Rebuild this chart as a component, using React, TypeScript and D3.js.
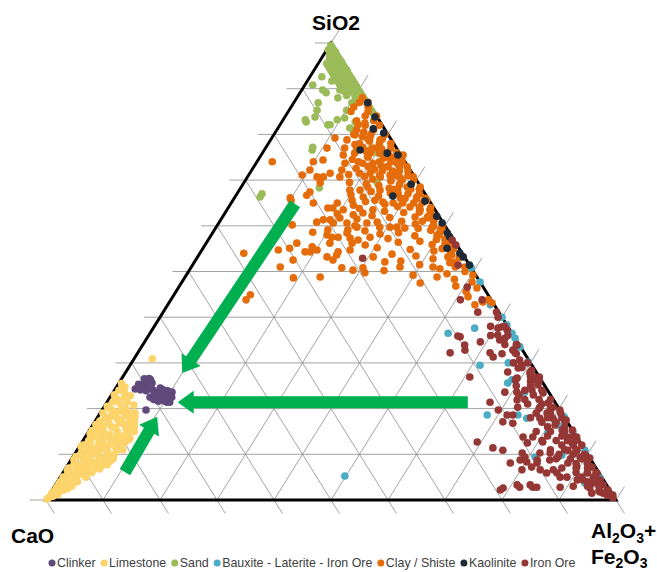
import React, { useEffect, useRef } from "react";
import * as d3 from "d3";

const W = 657;
const H = 572;

// Each point: [SiO2 %, Al2O3+Fe2O3 %]; CaO % = 100 - SiO2 - (Al2O3+Fe2O3)
const clinker: [number, number][] = [
  [24.7, 3.8], [25.2, 4.4], [25.8, 5.0], [25.6, 5.8], [24.1, 4.5], [24.5, 5.5],
  [23.6, 7.3], [23.0, 8.2], [23.6, 8.7], [23.4, 9.7], [22.5, 10.8], [21.9, 9.4],
  [21.4, 10.5], [21.9, 8.5], [23.6, 10.3], [19.7, 7.7], [22.5, 7.0], [24.5, 7.8],
  [24.1, 6.7], [22.5, 9.6], [21.4, 11.0], [24.9, 4.8], [25.3, 3.6], [24.3, 3.5],
  [23.9, 5.6], [23.2, 7.5], [22.9, 9.2], [22.3, 8.3], [22.8, 10.2], [21.7, 9.9],
  [23.9, 9.4], [24.1, 8.5], [22.0, 7.9], [21.6, 8.9], [26.5, 4.0], [26.3, 5.2], [26.6, 4.8],
];

const limestone: [number, number][] = [
  [30.9, 3.2], [24.7, 1.5], [22.8, 3.4], [21.5, 1], [21, 2.5], [20.5, 0.5], [20, 4], [19.5, 2],
  [19, 5.5], [19, 0.5], [18.5, 3], [18, 6.5], [18, 1.5], [17.5, 4.5], [17, 7], [17, 2.5],
  [16.5, 0.5], [16.5, 5.5], [16, 3.5], [16, 7.5], [15.5, 1.5], [15, 5], [15, 8], [14.5, 3],
  [14.5, 0.5], [14, 6.5], [14, 2], [13.5, 4.5], [13.5, 8], [13, 1], [13, 6], [12.5, 3],
  [12.5, 7.5], [12, 0.5], [12, 5], [11.5, 2], [11.5, 6.5], [11, 4], [11, 8], [10.5, 1],
  [10.5, 5.5], [10, 3], [10, 7], [9.5, 0.5], [9.5, 4.5], [9, 2], [9, 6], [8.5, 3.5],
  [8.5, 7], [8, 1], [8, 5], [7.5, 2.5], [7.5, 6], [7, 0.5], [7, 4], [6.5, 2], [6.5, 5],
  [6, 3], [6, 1], [5.5, 4], [5, 2], [5, 0.5], [4.5, 3], [4, 1.5], [4, 3.5], [3.5, 0.5],
  [3, 2], [3, 1], [2.5, 2.5], [2, 0.5], [2, 1.5], [1.5, 1], [1, 0.5], [0.5, 0.2], [0.2, 0.1],
  [18.2, 6.5], [15.8, 7.4], [13.1, 7.8], [7.7, 6.9], [9.8, 6.3], [19.0, 6.1],
  [25.5, 0.5], [24, 0.8], [23.5, 2], [23, 0.5], [22, 1.5], [22.5, 2.5], [21.5, 3.5], [20.8, 5],
  [20, 1.2], [19.5, 3.3], [19, 4.3], [18.5, 5], [18.3, 2.2], [17.8, 3.6], [17.5, 6], [17.3, 0.8],
  [16.8, 4.5], [16.5, 6.5], [16.2, 2], [15.8, 4.2], [15.5, 6.3], [15.2, 0.5], [15, 2.5], [14.7, 7],
  [14.3, 4], [14, 5.5], [13.8, 1.5], [13.3, 3.3], [13, 7], [12.8, 5.2], [12.5, 1.5], [12, 4],
  [12, 6.5], [11.7, 0.3], [11.3, 3], [11, 5.2], [11, 7], [10.7, 2], [10.2, 4], [10, 6],
  [9.8, 1.5], [9.5, 3], [9.2, 5.5], [9, 7.3], [8.8, 0.5], [8.5, 2.5], [8.2, 4.5], [8, 6.2],
  [7.7, 1.5], [7.5, 3.5], [7.2, 5.2], [7, 2.5], [6.8, 6], [6.5, 0.5], [6.2, 4], [6, 5],
  [5.7, 2], [5.5, 3], [5.3, 1], [5, 4.5], [4.7, 2], [4.3, 2.5], [4, 0.5], [3.7, 3],
  [3.5, 1.5], [3, 3], [2.7, 0.5], [2.5, 1.5], [2.2, 2], [1.8, 1], [1.5, 0.3], [1.2, 1.5], [0.8, 0.8],
];

const sand: [number, number][] = [
  [99.5, 0.2], [99, 0.7], [98.5, 1.2], [98.5, 0.3], [98, 1.8], [98, 0.8], [97.5, 2.2], [97.5, 1],
  [97, 2.7], [97, 1.7], [96.5, 3.2], [96.5, 1.5], [96, 3.8], [96, 2.5], [95.5, 4.2], [95.5, 2.7],
  [95.5, 1.5], [95, 4.7], [95, 3.5], [95, 2], [94.5, 5.2], [94.5, 4], [94.5, 2.5], [94, 5.8],
  [94, 4.5], [94, 3], [93.5, 6.2], [93.5, 5], [93.5, 3.5], [93, 6.7], [93, 5.5], [93, 4],
  [92.5, 7.2], [92.5, 6], [92.5, 4.5], [92, 7.7], [92, 6.5], [92, 5], [91.5, 8.2], [91.5, 7],
  [91.5, 5.5], [91, 8.7], [91, 7.5], [91, 6], [90.5, 9.2], [90.5, 8], [90.5, 6.5], [90, 9.7],
  [90, 8.5], [90, 7], [89.5, 10.2], [89.5, 9], [89.5, 7.5], [89, 10.7], [89, 9.5], [88.5, 11.2],
  [88.5, 10], [88.5, 8.5], [88, 11.7], [88, 10.3], [87.5, 12.2], [87.5, 10.8], [87, 12.7],
  [87, 11.2], [86.5, 13.2], [86, 13.7], [85.5, 14.2], [85, 14.7], [84.5, 15.2],
  [90.8, 1.4], [92.6, 2.1], [91.7, 4.3], [89.7, 3.7], [89.1, 4.6], [89.7, 6.7], [88.0, 7.2],
  [86.9, 4.3], [85.3, 4.9], [83.2, 3.9], [83.8, 5.3], [82.1, 8.8], [83.2, 9.5], [83.6, 10.6],
  [85.3, 10.1], [81.4, 12.6], [82.7, 12.9], [77.2, 8.2], [76.6, 8.4], [76.6, 18.5], [89.1, 8.2],
  [86.9, 10.2], [67.0, 4.4], [66.3, 4.4], [68.3, 13.8], [82.7, 4.3], [82.1, 8.4], [81.0, 13.4],
  [75.9, 20.3], [69.4, 23.4],
];

const bauxite: [number, number][] = [
  [50.8, 49.2], [47.7, 52.3], [42.7, 56.6], [40.0, 60.0], [38.3, 61.7], [36.5, 63.5], [35.4, 64.6],
  [33.5, 66.4], [30.2, 69.5], [37.6, 56.4], [30.0, 66.1], [29.5, 61.4], [26.3, 68.6], [18.6, 68.1],
  [18.6, 73.5], [17.9, 75.4], [14.7, 80.7], [9.8, 85.6], [9.4, 81.1], [8.1, 90.9], [3.7, 92.7],
  [5.0, 94.2], [36.5, 52.3], [25.6, 68.2], [23.6, 72.2], [16.4, 81.6], [18.2, 81.8], [14.9, 85.0],
  [10.9, 89.1], [4.8, 94.8], [5.25, 49.8],
];

const clayScatter: [number, number][] = [
  [82.1, 13.7], [82.5, 14.7], [79.9, 14.3], [79.2, 17.2], [78.8, 19.2], [77.2, 17.0], [77.0, 18.7],
  [75.9, 20.6], [75.1, 22.8], [75.5, 24.9], [73.7, 24.7], [72.9, 26.9], [72.9, 23.4], [73.7, 20.5],
  [73.7, 18.7], [74.0, 17.8], [77.0, 13.9], [75.9, 16.2], [73.7, 15.6], [72.2, 15.8], [71.5, 19.3],
  [71.5, 21.1], [70.7, 23.3], [71.1, 24.8], [70.5, 26.9], [70.7, 29.1], [68.5, 31.4], [68.5, 29.1],
  [67.8, 27.8], [66.3, 31.9], [65.6, 34.0], [63.5, 35.6], [63.5, 33.9], [64.1, 31.8], [65.0, 30.1],
  [67.2, 26.8], [67.8, 24.7], [68.5, 22.2], [67.8, 21.2], [67.8, 19.4], [65.6, 20.9], [66.3, 22.5],
  [65.6, 24.9], [65.2, 26.5], [65.0, 28.4], [63.5, 25.6], [62.8, 24.2], [62.4, 22.7], [63.5, 20.4],
  [65.0, 18.6], [63.9, 18.4], [61.7, 20.7], [61.3, 19.2], [60.6, 22.5], [59.7, 24.7], [60.6, 26.0],
  [59.7, 28.7], [59.7, 30.5], [59.7, 31.7], [59.5, 33.2], [61.9, 33.8], [61.7, 36.0], [59.7, 37.9],
  [58.0, 39.6], [61.9, 36.8], [59.1, 39.6], [56.2, 42.2], [55.4, 42.3], [53.6, 44.4], [51.9, 44.9],
  [51.0, 46.3], [51.0, 42.4], [48.8, 44.2], [61.3, 18.0], [60.8, 17.1], [60.6, 20.1], [59.1, 19.9],
  [58.4, 23.6], [57.3, 24.7], [57.5, 22.5], [58.0, 20.3], [58.6, 17.5], [55.4, 19.0], [54.3, 19.2],
  [54.7, 20.2], [56.2, 21.7], [54.3, 24.1], [53.6, 24.2], [53.2, 22.7], [52.5, 24.1], [54.7, 26.0],
  [56.9, 26.3], [57.5, 28.1], [55.8, 28.1], [53.2, 30.8], [52.1, 33.4], [51.0, 36.6], [49.2, 39.8],
  [49.7, 31.1], [50.3, 28.7], [50.8, 26.5], [48.8, 23.7], [54.3, 18.3], [52.5, 17.1], [55.1, 15.2],
  [65.0, 14.4], [66.7, 12.4], [67.4, 12.6], [69.4, 13.4], [70.7, 12.2], [72.2, 10.2], [70.7, 13.3],
  [71.5, 14.1], [74.0, 9.9], [74.4, 11.4], [75.5, 14.4], [77.0, 10.8], [78.8, 13.4], [79.2, 11.1],
  [60.2, 13.1], [56.2, 15.9], [74.0, 2.7], [71.1, 9.4], [66.1, 9.8], [70.7, 16.2], [63.9, 17.5],
  [57.5, 21.4], [54.7, 13.4], [51.0, 15.6], [54.0, 7.7], [48.6, 19.1], [56.2, 25.6], [50.8, 30.2],
  [59.1, 23.4], [43.8, 13.2], [44.9, 13.4], [65.6, 10.2], [53.2, 43.9], [51.0, 48.0], [49.2, 50.3],
  [47.7, 50.9], [46.4, 52.4], [42.7, 53.9], [43.3, 55.0], [43.8, 55.7], [43.1, 56.7],
  [80.5, 15.5], [79.5, 15.8], [78.5, 17.5], [77.8, 15.3], [76.8, 20.5], [76.3, 18], [75.2, 18.8],
  [74.8, 21.8], [74.5, 16.5], [73.2, 22.2], [72.6, 18.1], [72.3, 21.5], [72, 24.8], [71.2, 17.5],
  [70.8, 20.5], [70.2, 22.2], [69.8, 25.6], [69.5, 18.5], [69.2, 21.6], [68.8, 24], [68.2, 26.1],
  [67.5, 23.3], [67, 28.3], [66.8, 20.1], [66.5, 25.1], [66, 29.2], [65.3, 23.4], [64.7, 27.1],
  [64.5, 21.7], [64.2, 29.6], [63.8, 23.1], [63.2, 27.8], [62.9, 31.3], [62.6, 19.8], [62.2, 26.1],
  [61.8, 29.4], [61.5, 23.8], [61, 31.9], [60.8, 27.7], [60.4, 34.6], [60, 24.2], [59.4, 35.6],
  [58.9, 26.5], [58.5, 32.6], [58.2, 29.5], [57.8, 35.8], [57.2, 31.4], [56.6, 37.3], [56.4, 33.6],
  [55.9, 39.8], [55.2, 30.5], [54.8, 36.5], [54.5, 40.8], [53.8, 33.8], [53.4, 38.2], [52.8, 41.5],
  [52.3, 36.1], [51.5, 39.8], [50.6, 43.8], [50.2, 34.2], [49.5, 45.6], [48.3, 47.5], [47.5, 41.9],
  [46.8, 48.5], [45.6, 50.9], [44.5, 51.8],
];

const clayBand: [number, number][] = [
  [88, 11.5], [87, 11.5], [87, 13], [86, 11], [86, 13.5], [85, 14], [85, 11], [84, 14], [84, 16],
  [83, 16], [83, 13], [82, 17.5], [82, 15], [81, 17], [81, 14], [80, 19.5], [80, 17], [80, 14],
  [79, 19.5], [79, 17], [78, 21.5], [78, 19.5], [78, 16], [77, 22], [77, 19.5], [77, 16],
  [76, 23.5], [76, 22], [76, 19], [75, 24], [75, 22], [75, 19], [74, 25.5], [74, 23.5], [74, 21.5],
  [73, 25.5], [73, 23.5], [73, 20], [72, 27.5], [72, 26], [72, 23], [71, 28], [71, 26], [71, 23],
  [70, 29.5], [70, 27.5], [70, 25.5], [69, 29.5], [69, 27.5], [68, 31.5], [68, 30], [68, 27],
  [67, 32], [67, 30], [66, 33.5], [66, 32], [66, 30], [65, 33.5], [65, 32], [64, 35.5], [64, 33.5],
  [63, 36], [63, 34], [62, 37.5], [62, 36], [61, 37.5], [61, 35.5], [60, 39.5], [60, 38],
  [59, 40], [59, 38], [58, 41.5], [58, 40], [57, 41.5], [57, 40], [56, 43.5], [56, 42],
  [55, 44], [55, 42], [54, 44], [53, 46], [52, 45.5], [50, 48.5],
];

const kaolinite: [number, number][] = [
  [86.9, 13.0], [83.8, 15.8], [81.2, 16.8], [80.3, 19.1], [76.6, 16.8], [75.9, 21.9], [75.5, 24.0],
  [69.1, 29.5], [66.5, 27.6], [65.4, 33.8], [62.1, 37.5], [60.6, 39.2], [58.4, 41.2], [55.1, 42.8],
  [54.0, 45.6], [53.2, 46.6], [51.4, 48.6], [57.6, 42.0],
];

const ironOreScatter: [number, number][] = [
  [51.4, 46.6], [46.6, 50.6], [43.8, 50.8], [43.8, 54.6], [41.1, 55.2], [41.1, 58.5], [40.0, 59.3],
  [37.9, 61.1], [37.6, 60.5], [37.2, 62.3], [35.4, 62.8], [35.0, 62.1], [36.1, 61.2], [35.7, 54.8],
  [33.9, 56.5], [32.8, 57.1], [32.2, 54.8], [34.6, 58.9], [32.2, 61.8], [31.3, 62.8], [32.8, 65.5],
  [33.9, 65.7], [32.2, 66.2], [30.6, 67.8], [29.5, 68.7], [28.9, 68.4], [28.4, 71.0], [26.9, 72.3],
  [26.9, 73.1], [26.9, 60.9], [26.7, 69.3], [27.8, 71.0], [26.3, 72.3], [26.3, 69.2], [24.1, 73.2],
  [25.2, 73.7], [23.4, 75.5], [21.2, 77.5], [19.0, 78.4], [17.9, 80.0], [19.0, 80.8], [16.4, 81.1],
  [15.3, 82.9], [13.8, 84.5], [12.5, 86.1], [10.9, 86.1], [10.9, 87.7], [9.4, 89.0], [8.75, 90.5],
  [7.2, 92.2], [5.9, 93.7], [4.4, 95.0], [3.3, 96.1], [2.2, 97.5], [1.1, 98.9], [3.7, 94.1],
  [1.75, 96.3], [2.6, 94.1], [4.4, 92.0], [4.4, 91.0], [5.9, 92.0], [5.0, 88.9], [7.2, 89.5],
  [8.1, 87.5], [9.4, 85.1], [6.6, 85.7], [8.75, 84.0], [5.0, 87.7], [2.8, 88.8], [2.8, 84.0],
  [3.3, 83.3], [3.3, 81.0], [2.6, 78.9], [6.6, 80.2], [7.2, 81.6], [8.3, 80.2], [8.75, 81.8],
  [10.3, 81.5], [10.3, 83.3], [9.4, 79.3], [10.3, 78.4], [10.9, 74.7], [12.5, 78.2], [13.8, 76.8],
  [17.1, 71.6], [16.8, 73.5], [13.8, 78.5], [12.7, 80.8], [17.9, 77.7], [18.6, 72.6], [20.3, 72.6],
  [23.6, 70.8], [23.6, 68.7], [20.3, 76.5], [20.3, 78.8], [19.7, 80.3], [17.1, 82.5], [13.1, 86.6],
  [12.0, 88.0], [9.2, 90.8], [17.5, 82.5], [15.3, 84.7], [13.8, 86.2], [35.9, 54.3], [12.7, 69.3],
  [11.4, 72.7], [8.1, 77.4], [2.8, 81.7], [2.2, 78.6], [2.8, 84.7], [5.9, 84.9], [5.9, 86.7],
  [21.4, 67.2], [19.7, 69.5], [18.6, 71.6], [21.9, 71.7], [8.75, 78.8], [8.1, 82.1], [6.6, 83.4],
  [52.9, 29.1], [56.9, 42.8], [55.8, 44.0],
];

const ironOreBand: [number, number][] = [
  [38, 61.5], [38, 59], [36, 63], [36, 60], [34, 65.5], [34, 63.5], [32, 66.5], [32, 64],
  [30, 69.5], [30, 67], [28, 71], [28, 67], [26, 72], [26, 73.5], [24, 75], [24, 72],
  [22, 77.5], [22, 75.5], [22, 73], [20, 78.5], [20, 76.5], [18, 81.5], [18, 79], [18, 76],
  [16, 83], [16, 80], [14, 85.5], [14, 83.5], [14, 81], [12, 86.5], [12, 84.5], [10, 89.5],
  [10, 87.5], [10, 85], [8, 91], [8, 89], [6, 93.5], [6, 92], [6, 90], [4, 95], [4, 93],
  [2, 97.5], [2, 96], [1, 98], [0.5, 99.2],
  [29, 69], [27, 71.5], [25, 72.5], [25, 70], [23, 74], [23, 71.5], [21, 76.5], [21, 74],
  [19, 79], [19, 76.5], [17, 81], [17, 78.5], [15, 83.5], [15, 81], [15, 78.5], [13, 85],
  [13, 83], [13, 80.5], [11, 87.5], [11, 85.5], [11, 83], [9, 89.5], [9, 87.5], [9, 85],
  [7, 91.5], [7, 89.5], [7, 87], [5, 93.5], [5, 91.5], [3, 95.5], [3, 93.5], [3, 91],
  [1.5, 97], [1.5, 95],
];

const seriesNames = ["Clinker", "Limestone", "Sand", "Bauxite - Laterite - Iron Ore", "Clay / Shiste", "Kaolinite", "Iron Ore"];
const seriesColors = ["#604a7b", "#fcd46b", "#9bbb59", "#4bacc6", "#e46c0a", "#1f2a38", "#953735"];
const seriesData: [number, number][][] = [
  clinker,
  limestone,
  sand,
  bauxite,
  [...clayScatter, ...clayBand],
  kaolinite,
  [...ironOreScatter, ...ironOreBand],
];

// Arrows: [SiO2, Al2O3+Fe2O3] start -> tip
const arrows: [[number, number], [number, number]][] = [
  [[64.8, 11.3], [27.8, 10.0]],
  [[21.4, 63.3], [21.4, 12.4]],
  [[6.1, 10.8], [18.2, 10.4]],
];

const gridSteps = d3.range(0, 101, 10);

export default function App() {
  const ref = useRef<SVGSVGElement>(null);

  useEffect(() => {
    const svg = d3.select(ref.current);
    svg.selectAll("*").remove();

    const L = { x: 46, y: 500 };
    const R = { x: 616, y: 500 };
    const T = { x: 331, y: 43 };

    const yS = d3.scaleLinear().domain([0, 100]).range([L.y, T.y]);
    const xA = d3.scaleLinear().domain([0, 100]).range([0, R.x - L.x]);
    const xS = d3.scaleLinear().domain([0, 100]).range([0, T.x - L.x]);
    const pt = (s: number, a: number): [number, number] => [L.x + xA(a) + xS(s), yS(s)];

    const tick = 16;
    const unit = (dx: number, dy: number) => {
      const l = Math.hypot(dx, dy);
      return [dx / l, dy / l];
    };
    const upRight = unit(T.x - L.x, T.y - L.y);
    const downRight = unit(R.x - T.x, R.y - T.y);

    const grid = svg.append("g").attr("stroke", "#8c8c8c").attr("stroke-width", 0.8).attr("fill", "none");
    gridSteps.forEach((k) => {
      const p0 = pt(k, 0);
      const p1 = pt(k, 100 - k);
      grid.append("line").attr("x1", p0[0] - tick).attr("y1", p0[1]).attr("x2", p1[0]).attr("y2", p1[1]);
      const q0 = pt(0, k);
      const q1 = pt(100 - k, k);
      grid.append("line").attr("x1", q0[0]).attr("y1", q0[1])
        .attr("x2", q1[0] + upRight[0] * tick).attr("y2", q1[1] + upRight[1] * tick);
      const r0 = pt(100 - k, 0);
      const r1 = pt(0, 100 - k);
      grid.append("line").attr("x1", r0[0]).attr("y1", r0[1])
        .attr("x2", r1[0] + downRight[0] * tick).attr("y2", r1[1] + downRight[1] * tick);
    });

    svg.append("path")
      .attr("d", `M${L.x},${L.y}L${R.x},${R.y}L${T.x},${T.y}Z`)
      .attr("fill", "none").attr("stroke", "#000").attr("stroke-width", 3);

    seriesData.forEach((data, i) => {
      svg.append("g").attr("fill", seriesColors[i])
        .selectAll("circle").data(data).join("circle")
        .attr("cx", (d) => pt(d[0], d[1])[0])
        .attr("cy", (d) => pt(d[0], d[1])[1])
        .attr("r", 3.8);
    });

    const shaft = 12;
    const headW = 23;
    const headL = 16;
    arrows.forEach(([s, e]) => {
      const a = pt(s[0], s[1]);
      const b = pt(e[0], e[1]);
      const [ux, uy] = unit(b[0] - a[0], b[1] - a[1]);
      const nx = -uy, ny = ux;
      const hb = [b[0] - ux * headL, b[1] - uy * headL];
      const pts = [
        [a[0] + nx * shaft / 2, a[1] + ny * shaft / 2],
        [hb[0] + nx * shaft / 2, hb[1] + ny * shaft / 2],
        [hb[0] + nx * headW / 2, hb[1] + ny * headW / 2],
        [b[0], b[1]],
        [hb[0] - nx * headW / 2, hb[1] - ny * headW / 2],
        [hb[0] - nx * shaft / 2, hb[1] - ny * shaft / 2],
        [a[0] - nx * shaft / 2, a[1] - ny * shaft / 2],
      ];
      svg.append("polygon").attr("points", pts.map((p) => p.join(",")).join(" ")).attr("fill", "#00b050");
    });

    const font = "Arial, 'Liberation Sans', sans-serif";
    svg.append("text").attr("x", 336).attr("y", 30).attr("text-anchor", "middle")
      .attr("font-family", font).attr("font-size", 21).attr("font-weight", "bold").text("SiO2");
    svg.append("text").attr("x", 11).attr("y", 543)
      .attr("font-family", font).attr("font-size", 21).attr("font-weight", "bold").text("CaO");

    const lab1 = svg.append("text").attr("x", 591).attr("y", 538)
      .attr("font-family", font).attr("font-size", 21).attr("font-weight", "bold");
    lab1.append("tspan").text("Al");
    lab1.append("tspan").attr("font-size", 14).attr("dy", 5).text("2");
    lab1.append("tspan").attr("dy", -5).text("O");
    lab1.append("tspan").attr("font-size", 14).attr("dy", 5).text("3");
    lab1.append("tspan").attr("dy", -5).text("+");
    const lab2 = svg.append("text").attr("x", 591).attr("y", 564)
      .attr("font-family", font).attr("font-size", 21).attr("font-weight", "bold");
    lab2.append("tspan").text("Fe");
    lab2.append("tspan").attr("font-size", 14).attr("dy", 4).text("2");
    lab2.append("tspan").attr("dy", -4).text("O");
    lab2.append("tspan").attr("font-size", 14).attr("dy", 4).text("3");

    const leg = svg.append("g");
    let x = 52;
    const ly = 563;
    seriesNames.forEach((name, i) => {
      leg.append("circle").attr("cx", x).attr("cy", ly).attr("r", 3.5).attr("fill", seriesColors[i]);
      const t = leg.append("text").attr("x", x + 5).attr("y", ly + 4.3)
        .attr("font-family", font).attr("font-size", 12.4).attr("fill", "#404040").text(name);
      const w = (t.node() as SVGTextElement).getComputedTextLength();
      x = x + 5 + w + 8.5;
    });
  }, []);

  return (
    <svg ref={ref} width={W} height={H}
      style={{ position: "absolute", left: 0, top: 0, background: "#fff" }} />
  );
}
